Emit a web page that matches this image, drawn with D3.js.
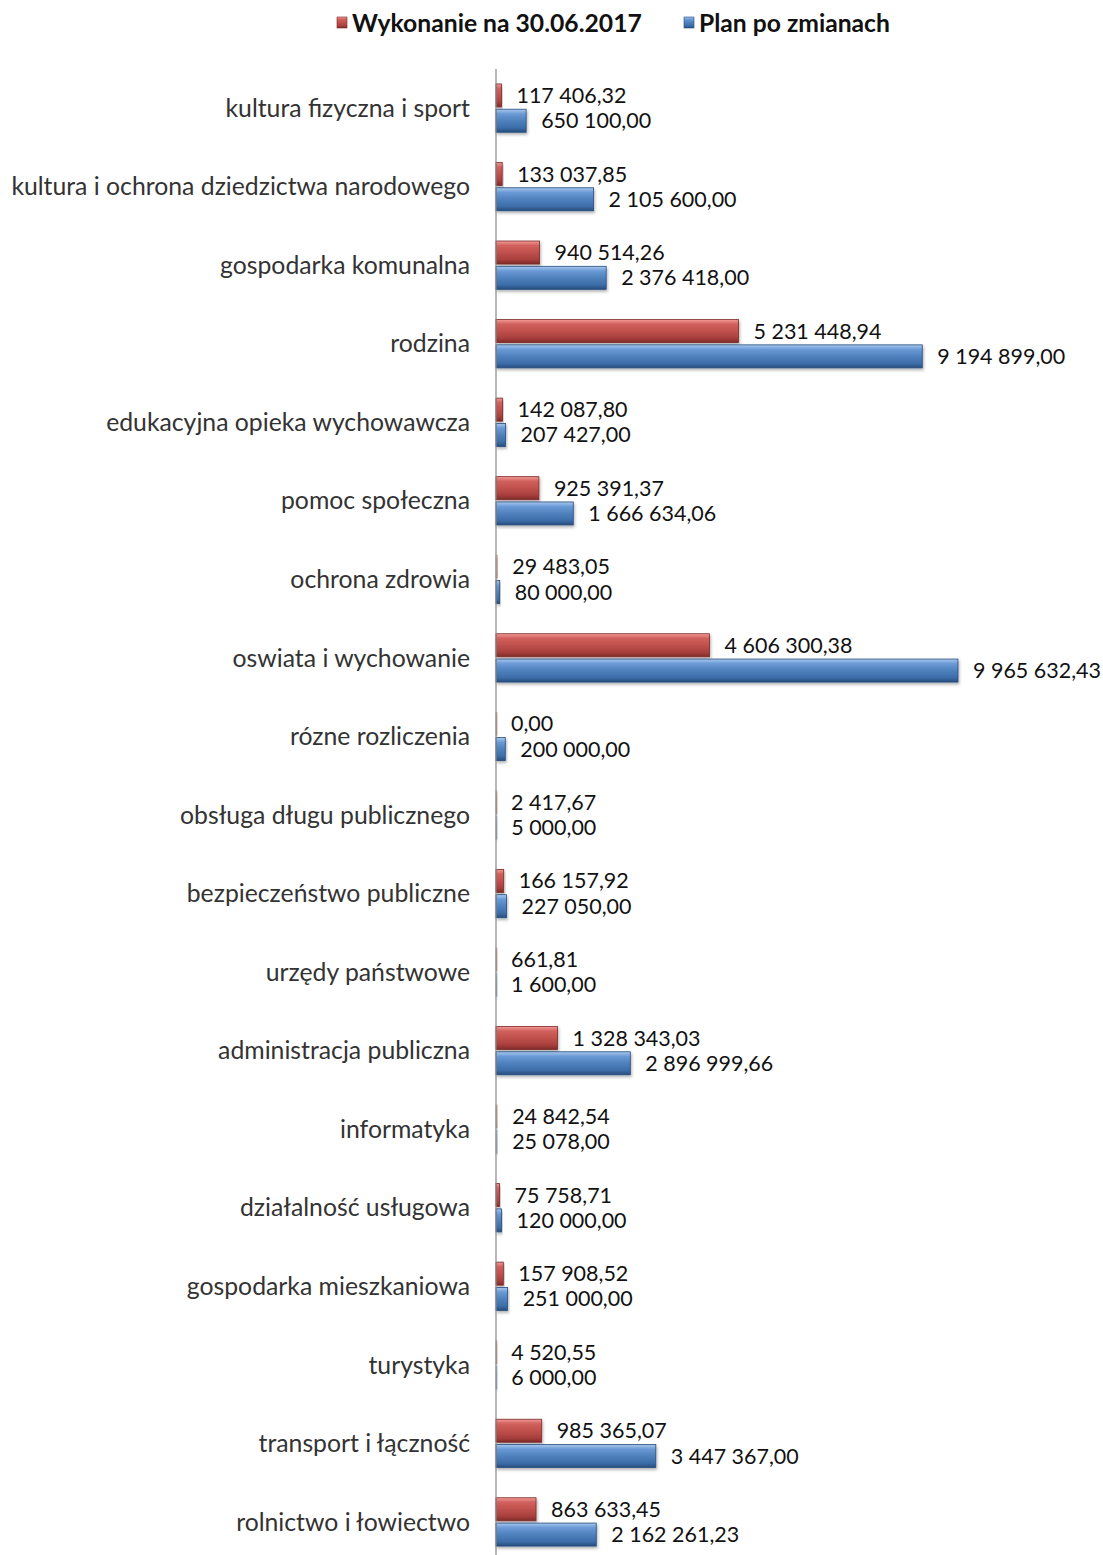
<!DOCTYPE html>
<html>
<head>
<meta charset="utf-8">
<script src="https://d3js.org/d3.v7.min.js"></script>
<style>
  body { margin: 0; background: #fff; }
  text { font-family: Lato, "Open Sans", sans-serif; fill: #222; }
</style>
</head>
<body>
<div id="chart"></div>
<script>
// categories, top to bottom as in the picture
var categories = [
  "kultura fizyczna i sport",
  "kultura i ochrona dziedzictwa narodowego",
  "gospodarka komunalna",
  "rodzina",
  "edukacyjna opieka wychowawcza",
  "pomoc społeczna",
  "ochrona zdrowia",
  "oswiata i wychowanie",
  "rózne rozliczenia",
  "obsługa długu publicznego",
  "bezpieczeństwo publiczne",
  "urzędy państwowe",
  "administracja publiczna",
  "informatyka",
  "działalność usługowa",
  "gospodarka mieszkaniowa",
  "turystyka",
  "transport i łączność",
  "rolnictwo i łowiectwo"
];
var wykonanie = [117406.32, 133037.85, 940514.26, 5231448.94, 142087.80, 925391.37, 29483.05,
  4606300.38, 0.00, 2417.67, 166157.92, 661.81, 1328343.03, 24842.54, 75758.71, 157908.52,
  4520.55, 985365.07, 863633.45];
var plan = [650100.00, 2105600.00, 2376418.00, 9194899.00, 207427.00, 1666634.06, 80000.00,
  9965632.43, 200000.00, 5000.00, 227050.00, 1600.00, 2896999.66, 25078.00, 120000.00,
  251000.00, 6000.00, 3447367.00, 2162261.23];
var seriesNames = ["Wykonanie na 30.06.2017", "Plan po zmianach"];

var w = 1103, h = 1555;
var axisX = 496;

var pl = d3.formatLocale({decimal: ",", thousands: " ", grouping: [3], currency: ["", ""]});
var fmt = pl.format(",.2f");

var rows = categories.map(function(c, i) {
  return {cat: c, vals: [wykonanie[i], plan[i]]};
});

var svg = d3.select("#chart").append("svg").attr("width", w).attr("height", h);

// bevel-like gradients
var defs = svg.append("defs");
var looks = [
  {id: "gRed", stops: ["#f29a96", "#d0605c", "#c0504d", "#a8403d", "#7e2a28"], edge: "#7e2a28"},
  {id: "gBlue", stops: ["#a9c8ee", "#6a9ad6", "#4f81bd", "#3d6ea9", "#264d7e"], edge: "#264d7e"}
];
looks.forEach(function(l) {
  var g = defs.append("linearGradient").attr("id", l.id)
    .attr("x1", 0).attr("y1", 0).attr("x2", 0).attr("y2", 1);
  [0, 0.2, 0.5, 0.8, 1].forEach(function(o, k) {
    g.append("stop").attr("offset", o).attr("stop-color", l.stops[k]);
  });
});
var sh = defs.append("filter").attr("id", "shadow").attr("x", "-10%").attr("y", "-20%")
  .attr("width", "130%").attr("height", "160%");
sh.append("feDropShadow").attr("dx", 1).attr("dy", 2).attr("stdDeviation", 1.5)
  .attr("flood-color", "#000").attr("flood-opacity", 0.3);

var x = d3.scaleLinear().domain([0, 9965632.43]).range([axisX, 958]);
var y = d3.scaleBand().domain(categories).range([69, 1561]).paddingInner(0.385).paddingOuter(0.19);
var ySub = d3.scaleBand().domain([0, 1]).range([0, y.bandwidth()]).paddingInner(0.09);

// category labels, sized so the longest one fits the left margin
var catG = svg.append("g");
var catText = catG.selectAll("text").data(categories).enter().append("text")
  .attr("x", 470)
  .attr("y", function(d) { return y(d) + y.bandwidth() / 2; })
  .attr("dy", "0.35em")
  .attr("text-anchor", "end")
  .style("font-size", "22px")
  .style("fill", "#333")
  .text(function(d) { return d; });
var longest = d3.max(catText.nodes(), function(n) { return n.getComputedTextLength(); });
catText.style("font-size", (22 * 459 / longest) + "px");

// bars
var groups = svg.selectAll("g.row").data(rows).enter().append("g")
  .attr("class", "row")
  .attr("transform", function(d) { return "translate(0," + y(d.cat) + ")"; });

groups.selectAll("rect").data(function(d) { return d.vals; }).enter().append("rect")
  .attr("x", x(0))
  .attr("y", function(d, i) { return ySub(i); })
  .attr("width", function(d) { return Math.max(x(d) - x(0), 1); })
  .attr("height", ySub.bandwidth())
  .attr("fill", function(d, i) { return "url(#" + looks[i].id + ")"; })
  .attr("stroke", function(d, i) { return looks[i].edge; })
  .attr("stroke-width", 0.8)
  .attr("stroke-opacity", function(d) { return x(d) - x(0) < 2 ? 0.35 : 1; })
  .attr("fill-opacity", function(d) { return x(d) - x(0) < 2 ? 0.35 : 1; })
  .attr("filter", "url(#shadow)");

var valText = groups.selectAll("text.val").data(function(d) { return d.vals; }).enter().append("text")
  .attr("class", "val")
  .attr("x", function(d) { return x(d) + 15; })
  .attr("y", function(d, i) { return ySub(i) + ySub.bandwidth() / 2; })
  .attr("dy", "0.35em")
  .style("font-size", "20px")
  .style("fill", "#111")
  .text(function(d) { return fmt(d); });
// fit: "9 965 632,43" is about 128px wide in the picture
var big = valText.filter(function(d) { return d === 9965632.43; }).node();
var vs = 20 * 128 / big.getComputedTextLength();
valText.style("font-size", vs + "px");

// axis
var yAxis = d3.axisLeft(y).tickSize(0).tickFormat("");
svg.append("g").attr("transform", "translate(" + axisX + ",0)").call(yAxis)
  .select(".domain").attr("stroke", "#888").attr("stroke-width", 1.2)
  .attr("d", "M0,69V1555");

// legend
var legend = svg.append("g");
var legX = [337, 684];
seriesNames.forEach(function(name, i) {
  var lg = legend.append("g").attr("transform", "translate(" + legX[i] + ",17)");
  lg.append("rect").attr("width", 10).attr("height", 11)
    .attr("fill", "url(#" + looks[i].id + ")").attr("stroke", looks[i].edge).attr("stroke-width", 0.6);
  var t = lg.append("text").attr("x", 15).attr("y", 6).attr("dy", "0.35em")
    .style("font-size", "21px").style("font-weight", "bold").style("fill", "#111")
    .text(name);
  var target = i === 0 ? 290 : 191;
  t.style("font-size", (21 * target / t.node().getComputedTextLength()) + "px");
});
</script>
</body>
</html>
